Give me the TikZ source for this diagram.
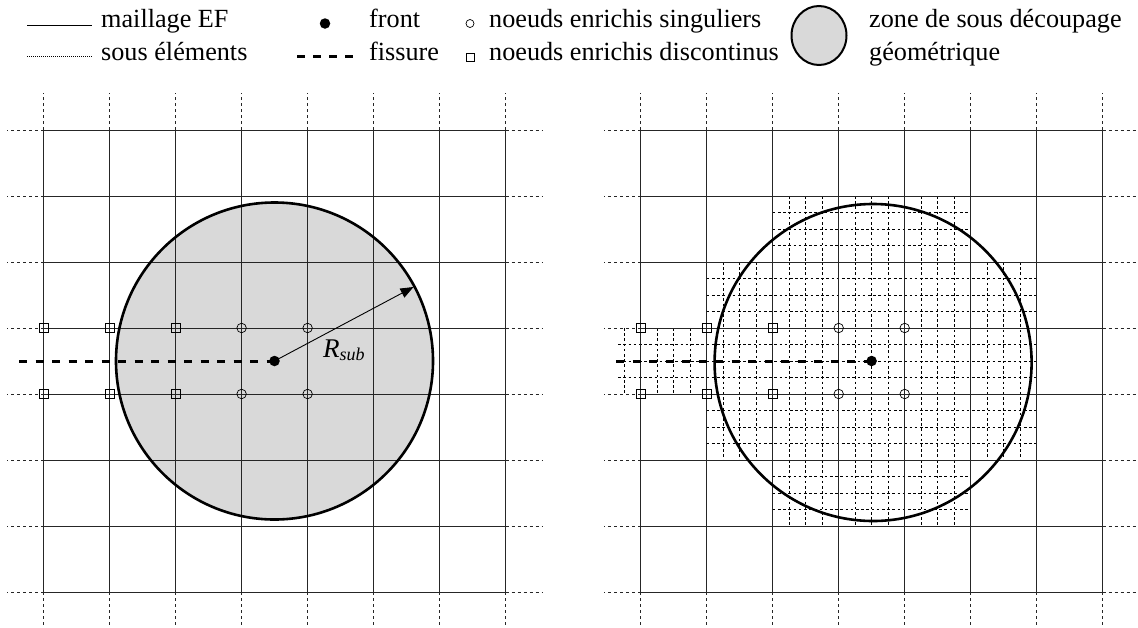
\documentclass[tikz,border=0pt]{standalone}
\usepackage{fontspec}
\setmainfont{Liberation Serif}
\usetikzlibrary{arrows.meta,shapes.geometric}
\tikzset{
  coarse/.style={line width=1pt,black!85},
  ext/.style={line width=0.9pt,dash pattern=on 3pt off 3pt,black!85},
  fine/.style={line width=0.9pt,dash pattern=on 2.6pt off 2.6pt,black},
  crack/.style={line width=3pt,dash pattern=on 8pt off 8.5pt},
  zone/.style={line width=2.6pt},
  frontdot/.style={circle,fill=black,inner sep=0pt,minimum size=10.5pt},
  singnode/.style={circle,draw,line width=0.7pt,inner sep=0pt,minimum size=9.5pt},
  discnode/.style={rectangle,draw,line width=0.7pt,inner sep=0pt,minimum size=9pt},
  leg/.style={anchor=base west,inner sep=0pt,font=\fontsize{26.2}{30}\selectfont},
}
\newcommand{\meshgrid}{%
  \foreach \i in {0,...,7}{
    \pgfmathsetmacro{\vx}{43.6+66*\i}
    \pgfmathsetmacro{\hy}{130+66*\i}
    \draw[coarse] (\vx,130) -- (\vx,592);
    \draw[coarse] (43.6,\hy) -- (505.6,\hy);
    \draw[ext] (\vx,130) -- (\vx,93);
    \draw[ext] (\vx,592) -- (\vx,628);
    \draw[ext] (43.6,\hy) -- (7,\hy);
    \draw[ext] (505.6,\hy) -- (543,\hy);
  }%
}
\newcommand{\enrichednodes}[1]{%
  \foreach \yy/\rr in {328/a,394/b}{
    \foreach \xx/\cc in {43.6/a,109.6/b,175.6/c}
      \node[discnode] (#1d\rr\cc) at (\xx,\yy) {};
    \foreach \xx/\cc in {241.6/a,307.6/b}
      \node[singnode] (#1s\rr\cc) at (\xx,\yy) {};
  }%
}
\begin{document}
\begin{tikzpicture}[x=1pt,y=-1pt]
\useasboundingbox (0,0) rectangle (1138,627);
% legend
\coordinate (l1a) at (27,25.5); \coordinate (l1b) at (92,25.5);
\coordinate (l2a) at (27,56.5); \coordinate (l2b) at (92,56.5);
\coordinate (l3a) at (297,56.5); \coordinate (l3b) at (355,56.5);
\draw[line width=1pt] (l1a) -- (l1b);
\draw[line width=0.9pt,dash pattern=on 1pt off 1pt] (l2a) -- (l2b);
\draw[line width=3pt,dash pattern=on 8pt off 8pt] (l3a) -- (l3b);
\node[leg] (tmail) at (101,27) {maillage EF};
\node[leg] (tsous) at (101,60) {sous éléments};
\node[frontdot] (lfront) at (325,23.5) {};
\node[leg] (tfront) at (369,27) {front};
\node[leg] (tfiss) at (369,60) {fissure};
\node[singnode,minimum size=8pt] (lsing) at (470,23.5) {};
\node[discnode,minimum size=8pt] (ldisc) at (470,57) {};
\node[leg] (tsing) at (489,27) {noeuds enrichis singuliers};
\node[leg] (tdisc) at (489,60) {noeuds enrichis discontinus};
\node[ellipse,draw,fill=black!15,line width=2pt,inner sep=0pt,minimum width=55pt,minimum height=59pt] (lzone) at (819,35.5) {};
\node[leg] (tzone) at (869,27) {zone de sous découpage};
\node[leg] (tgeo) at (869,60) {géométrique};
% left panel
\fill[black!15] (274.5,361) circle[radius=158.5pt];
\meshgrid
\draw[crack] (19,361) -- (274.5,361);
\draw[zone] (274.5,361) circle[radius=158.5pt];
\enrichednodes{L}
\node[frontdot] (Lfront) at (274.5,361) {};
\coordinate (Ltip) at (413.5,287);
\draw[line width=0.9pt,-{Triangle[length=13pt,width=10pt]}] (Lfront.center) -- (Ltip);
\node[anchor=base west,inner sep=0pt,font=\fontsize{27}{30}\selectfont] (Rsub) at (323,357) {\textit{R}\raisebox{-3.7pt}{\fontsize{18}{20}\selectfont\textit{sub}}};
% right panel
\begin{scope}[shift={(597.1,0)}]
  \begin{scope}[fine]
    % columns of sub elements
    \foreach \k in {0,...,12}{
      \pgfmathsetmacro{\fx}{175.6+16.5*\k}
      \draw (\fx,196) -- (\fx,262);
      \draw (\fx,460) -- (\fx,526);
    }
    \foreach \k in {0,...,20}{
      \pgfmathsetmacro{\fx}{109.6+16.5*\k}
      \draw (\fx,262) -- (\fx,460);
    }
    \foreach \k in {0,...,4}{
      \pgfmathsetmacro{\fx}{27.1+16.5*\k}
      \draw (\fx,328) -- (\fx,394);
    }
    % rows of sub elements
    \foreach \k in {1,2,3}{
      \pgfmathsetmacro{\fy}{196+16.5*\k}
      \draw (175.6,\fy) -- (373.6,\fy);
      \pgfmathsetmacro{\fy}{460+16.5*\k}
      \draw (175.6,\fy) -- (373.6,\fy);
    }
    \foreach \k in {0,...,12}{
      \pgfmathsetmacro{\fy}{262+16.5*\k}
      \draw (109.6,\fy) -- (439.6,\fy);
    }
    \foreach \k in {1,2,3}{
      \pgfmathsetmacro{\fy}{328+16.5*\k}
      \draw (21,\fy) -- (109.6,\fy);
    }
  \end{scope}
  \meshgrid
  \draw[crack] (19,361) -- (274.5,361);
  \draw[zone] (276,362.5) circle[radius=158.5pt];
  \enrichednodes{R}
  \node[frontdot] (Rfront) at (274.5,361) {};
\end{scope}
\end{tikzpicture}
\end{document}
